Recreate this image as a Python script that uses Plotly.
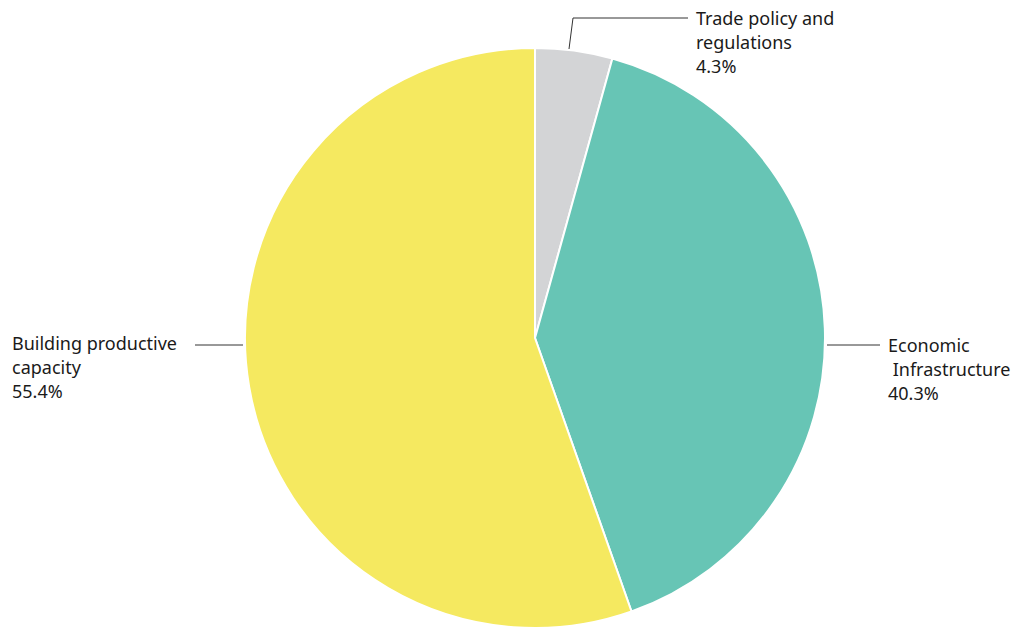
import plotly.graph_objects as go

W, H = 1023, 628

categories = ["Trade policy and regulations", "Economic Infrastructure", "Building productive capacity"]
label_lines = [["Trade policy and", "regulations"], ["Economic", " Infrastructure"], ["Building productive", "capacity"]]
values = [4.3, 40.3, 55.4]
colors = ["#d3d4d6", "#67c5b5", "#f5e960"]

def px(x):
    return x / W

def py(y):
    return 1 - y / H

fig = go.Figure(go.Pie(
    labels=categories,
    values=values,
    sort=False,
    direction="clockwise",
    rotation=0,
    marker=dict(colors=colors, line=dict(color="white", width=2)),
    textinfo="none",
    hoverinfo="label+percent",
    showlegend=False,
    domain=dict(x=[px(245), px(825)], y=[0, 580 / H]),
))

# label layout (pixel positions of label blocks and leader lines)
label_pos = [(694, 18), (886, 345), (10, 343)]
leaders = [
    [(569, 49), (573, 18), (688, 18)],
    [(827, 345), (880, 345)],
    [(195, 345), (243, 345)],
]
font = dict(family="Noto Sans, Open Sans, sans-serif", size=18, color="#1a1a1a")
line_h = 24

annotations = []
for (lx, ly), lines, v in zip(label_pos, label_lines, values):
    for i, t in enumerate(lines + [f"{v}%"]):
        annotations.append(dict(
            x=px(lx), y=py(ly + i * line_h), xref="paper", yref="paper",
            text=t.replace(" ", "&nbsp;") if t.startswith(" ") else t,
            showarrow=False, xanchor="left", yanchor="middle", align="left",
            font=font,
        ))

shapes = []
for pts in leaders:
    for (x0, y0), (x1, y1) in zip(pts[:-1], pts[1:]):
        shapes.append(dict(type="line", xref="paper", yref="paper",
                           x0=px(x0), y0=py(y0), x1=px(x1), y1=py(y1),
                           line=dict(color="#333333", width=1)))

fig.update_layout(
    width=W, height=H,
    margin=dict(l=0, r=0, t=0, b=0),
    paper_bgcolor="white", plot_bgcolor="white",
    annotations=annotations,
    shapes=shapes,
)

fig.write_html("out.html", config={"displayModeBar": False},
               post_script="document.body.style.margin='0';document.body.style.overflow='hidden';")
